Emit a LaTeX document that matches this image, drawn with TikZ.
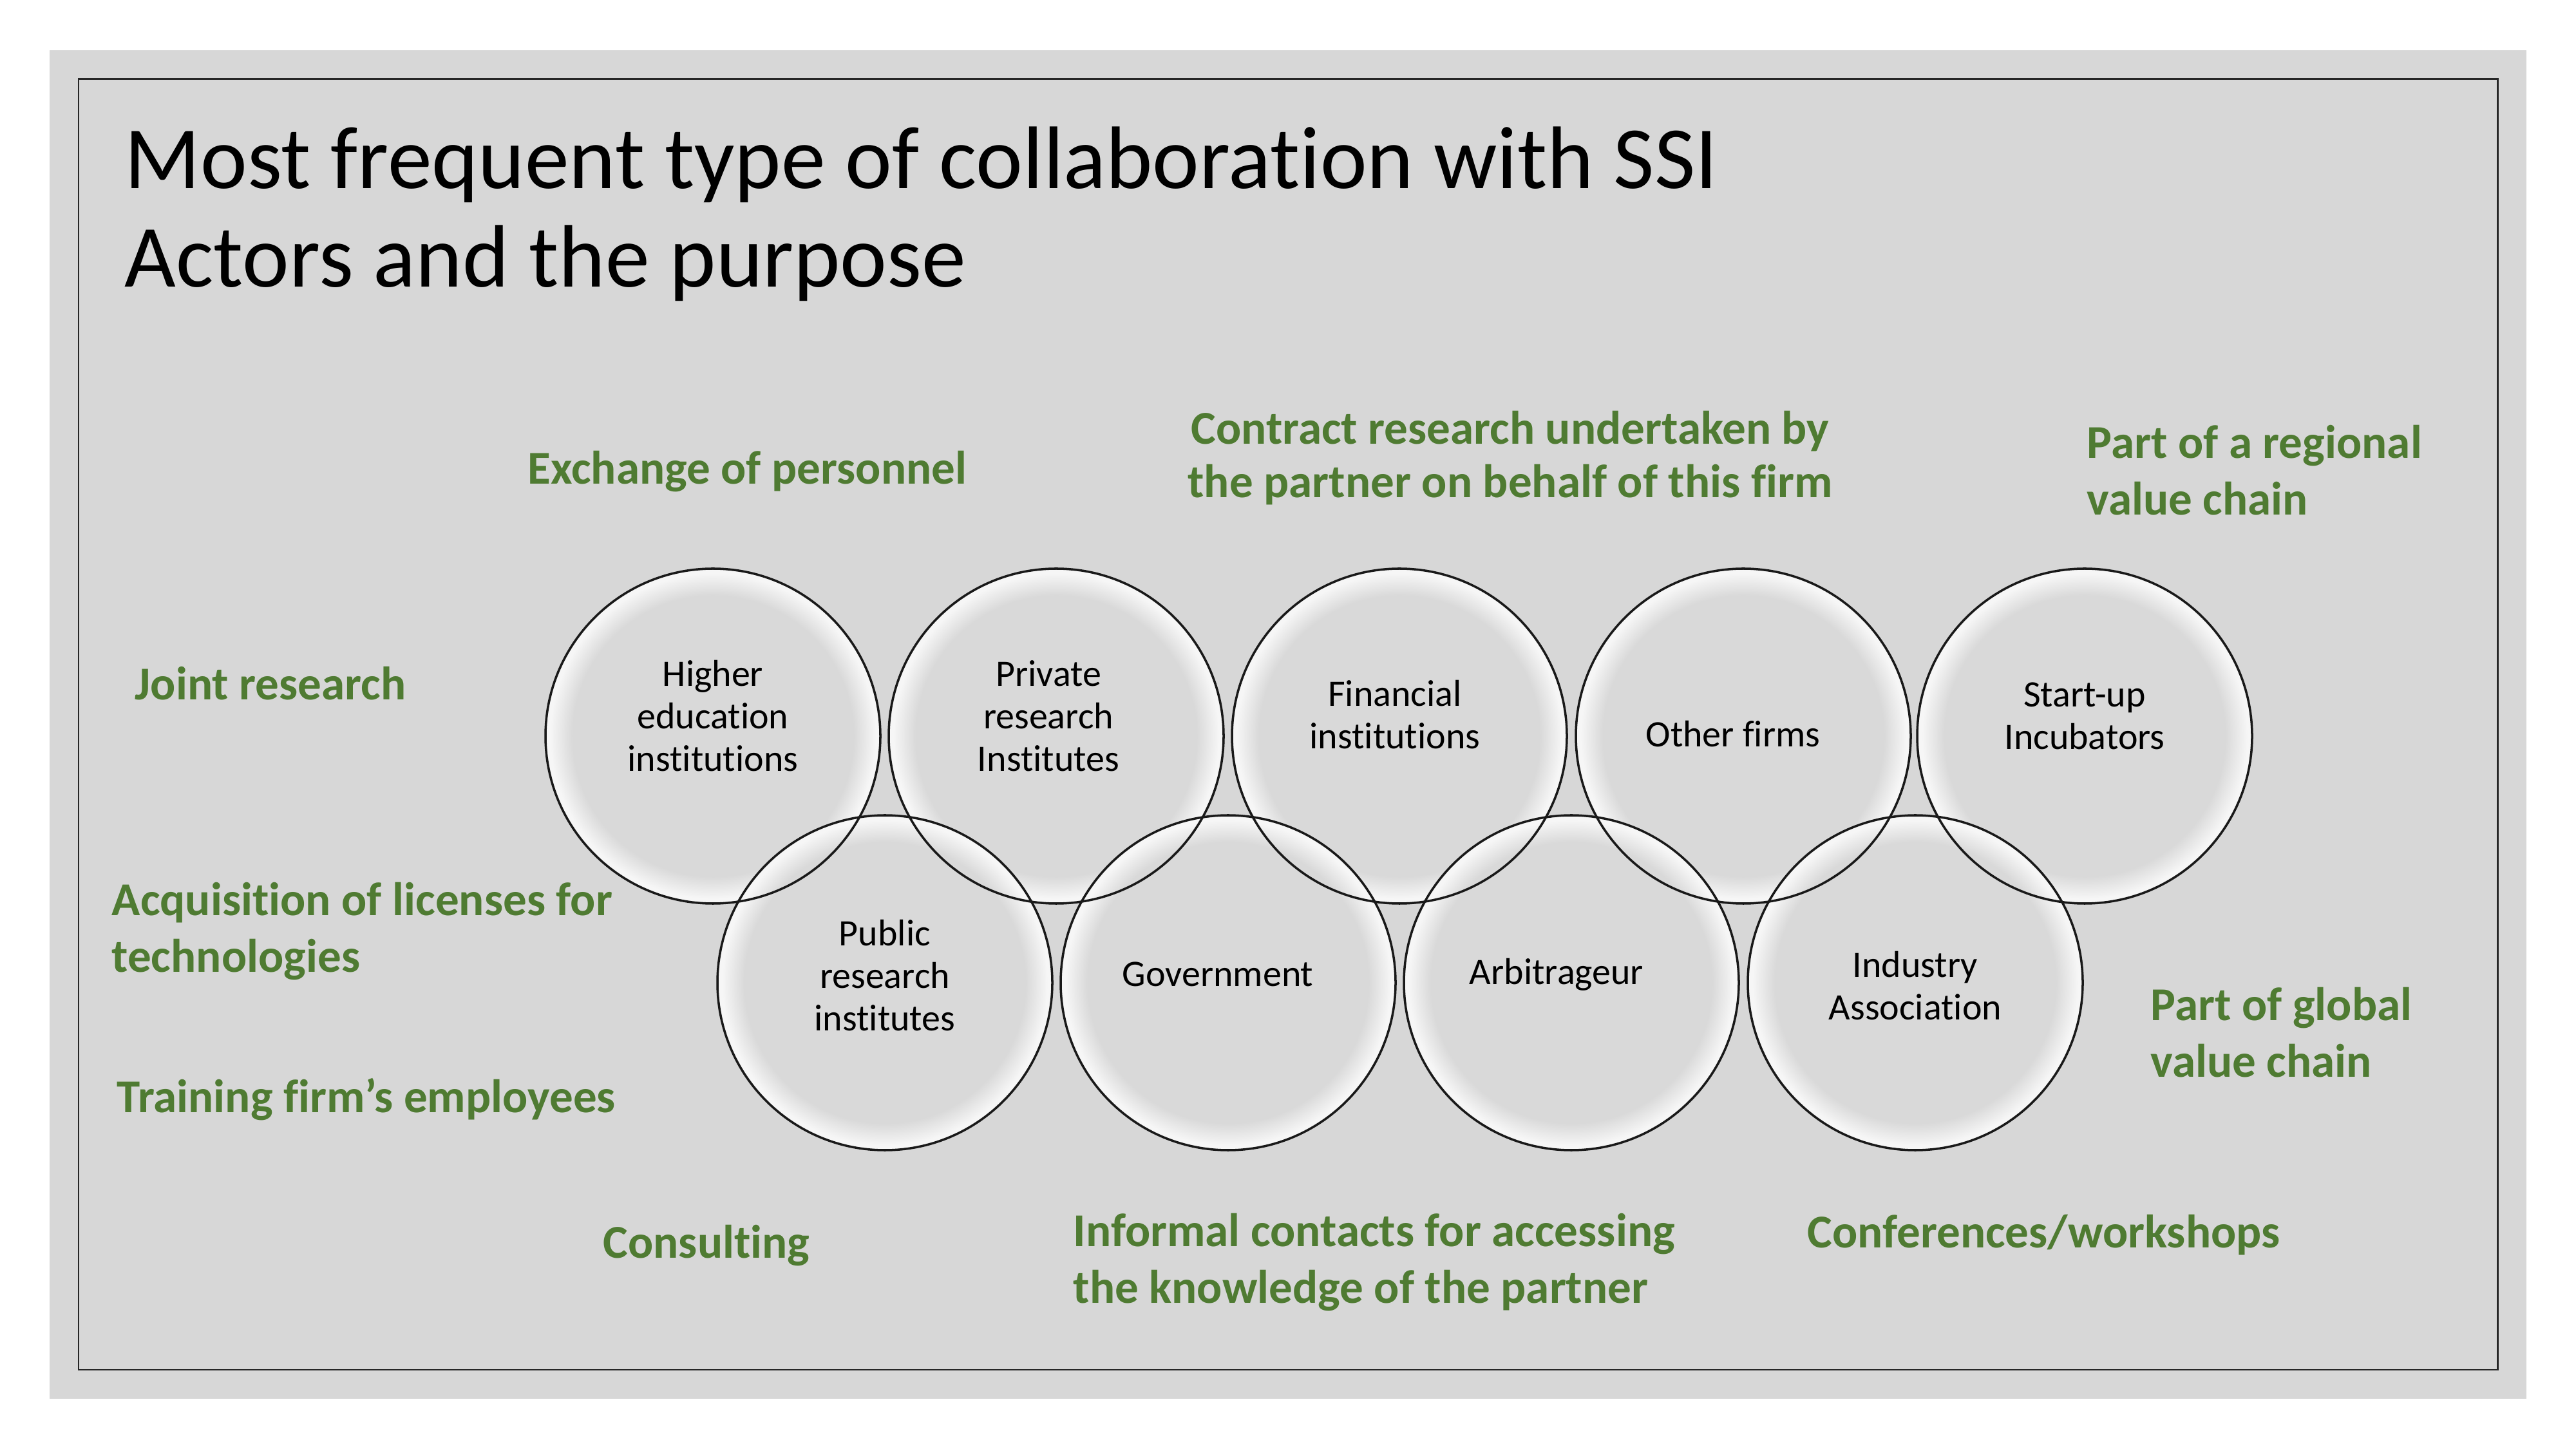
\documentclass[tikz,border=0pt]{standalone}
\usepackage{fontspec}
\setmainfont{Carlito}[Ligatures=NoCommon]
\definecolor{slidegray}{HTML}{D7D7D7}
\definecolor{framegray}{HTML}{262626}
\definecolor{purposegreen}{HTML}{4F7B32}
\definecolor{bubcore}{HTML}{D9D9D9}
\definecolor{bubrim}{HTML}{F6F6F6}
\pgfdeclareradialshading{bubble}{\pgfpointorigin}{color(0bp)=(bubcore); color(21bp)=(bubcore); color(24.3bp)=(bubrim); color(25bp)=(bubrim); color(50bp)=(bubrim)}
\tikzset{
  bubble/.style={circle,minimum size=5.2cm,inner sep=0pt,shading=bubble},
  rim/.style={draw=black!90,line width=1pt},
  actor/.style={align=center,inner sep=0pt,font=\fontsize{16.5}{18.8}\selectfont},
  purpose/.style={anchor=west,align=left,inner sep=0pt,text=purposegreen,font=\fontsize{20.8}{25}\selectfont\bfseries}
}

\begin{document}
\begin{tikzpicture}[x=1cm,y=1cm]
  \useasboundingbox (0,0) rectangle (40,-22.5);
  \fill[slidegray] (0.77,-0.78) rectangle (39.23,-21.72);
  \draw[framegray,line width=0.85pt] (1.22,-1.23) rectangle (38.78,-21.27);
  \node[anchor=west,align=left,inner sep=0pt,font=\fontsize{39.2}{43.6}\selectfont] (title) at (1.93,-3.32) {Most frequent type of collaboration with SSI\\Actors and the purpose};

  \foreach \nm/\cx/\cy in {hei/11.07/-11.43, pri/16.40/-11.43, fin/21.73/-11.43, oth/27.07/-11.43, inc/32.37/-11.43,
                           pub/13.74/-15.26, gov/19.07/-15.26, arb/24.40/-15.26, ind/29.74/-15.26}
    \node[bubble] (\nm) at (\cx,\cy) {};
  \foreach \nm in {hei,pri,fin,oth,inc,pub,gov,arb,ind}
    \draw[rim] (\nm) circle[radius=2.6];

  \node[actor] (heitext) at ([yshift=3.1mm]hei) {Higher\\education\\institutions};
  \node[actor] (pritext) at ([xshift=-1.2mm,yshift=3.1mm]pri) {Private\\research\\Institutes};
  \node[actor] (fintext) at ([xshift=-0.7mm,yshift=3.3mm]fin) {Financial\\institutions};
  \node[actor] (othtext) at ([xshift=-1.6mm,yshift=0.3mm]oth) {Other firms};
  \node[actor] (inctext) at ([yshift=3.1mm]inc) {Start-up\\Incubators};
  \node[actor] (pubtext) at ([yshift=1.1mm]pub) {Public\\research\\institutes};
  \node[actor] (govtext) at ([xshift=-1.6mm,yshift=1.3mm]gov) {Government};
  \node[actor] (arbtext) at ([xshift=-2.3mm,yshift=1.3mm]arb) {Arbitrageur};
  \node[actor] (indtext) at ([yshift=-0.5mm]ind) {Industry\\Association};

  \node[purpose] (exchange) at (8.19,-7.32) {Exchange of personnel};
  \node[purpose,anchor=center,align=center,font=\fontsize{20.8}{23.6}\selectfont\bfseries] (contract) at (23.45,-7.11) {Contract research undertaken by\\the partner on behalf of this firm};
  \node[purpose] (regional) at (32.40,-7.30) {Part of a regional\\value chain};
  \node[purpose] (joint) at (2.09,-10.61) {Joint research};
  \node[purpose] (licenses) at (1.73,-14.46) {Acquisition of licenses for\\technologies};
  \node[purpose] (training) at (1.81,-17.07) {Training firm’s employees};
  \node[purpose] (consulting) at (9.36,-19.34) {Consulting};
  \node[purpose] (informal) at (16.66,-19.60) {Informal contacts for accessing\\the knowledge of the partner};
  \node[purpose] (conferences) at (28.06,-19.18) {Conferences/workshops};
  \node[purpose] (global) at (33.39,-16.03) {Part of global\\value chain};
\end{tikzpicture}
\end{document}
